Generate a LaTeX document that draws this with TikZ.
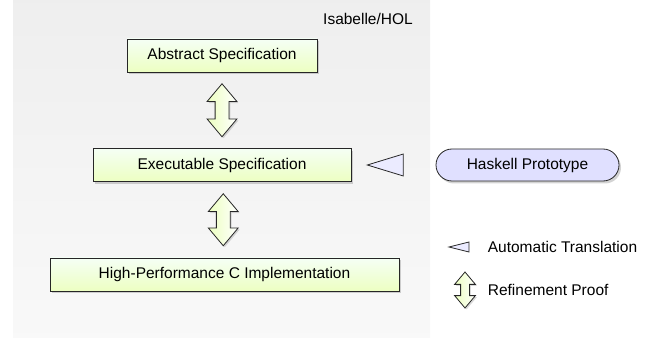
\documentclass[tikz,border=0pt]{standalone}
\usepackage{fontspec}
\setmainfont{Liberation Sans}
\usepackage{tikz}
\usetikzlibrary{shapes.geometric,shapes.arrows,positioning,calc,shadows}

\begin{document}
\begin{tikzpicture}[
    x=1pt, y=-1pt,
    font=\fontsize{15.5}{18}\selectfont,
    spec/.style={rectangle, draw=black!85, line width=0.8pt, minimum height=33pt, inner sep=0pt,
        top color=green!4!white, bottom color=green!30!yellow!24!white, text=black,
        drop shadow={shadow xshift=2pt, shadow yshift=-2.5pt, opacity=0.35}},
    proto/.style={rectangle, rounded corners=16pt, draw=black!85, line width=0.8pt, minimum height=32pt,
        minimum width=183pt, inner sep=0pt, fill=blue!12!white, text=black,
        drop shadow={shadow xshift=2pt, shadow yshift=-2.5pt, opacity=0.35}},
    refine/.style={double arrow, rotate=90, draw=black!85, line width=0.8pt, inner xsep=0pt,
        inner ysep=6.5pt, double arrow head extend=8pt, double arrow tip angle=80,
        left color=green!30!yellow!25!white, right color=white,
        drop shadow={shadow xshift=1.5pt, shadow yshift=-1.5pt, opacity=0.3}},
    transl/.style={isosceles triangle, shape border rotate=180, isosceles triangle stretches,
        draw=black!85, line width=0.8pt, inner sep=0pt, fill=blue!8!white},
    legend/.style={text=black, anchor=west}
]
    % Canvas
    \useasboundingbox (0,0) rectangle (651,339);
    \shade[top color=gray!13, bottom color=gray!5] (13,0) rectangle (430,337);
    \node[text=black] (hol) at (368,18.5) {Isabelle/HOL};

    % Specifications
    \node[spec, minimum width=190pt] (abs) at (222,55.5) {Abstract Specification};
    \node[spec, minimum width=258pt] (exec) at (222,165) {Executable Specification};
    \node[spec, minimum width=349pt] (impl) at (224.5,274.5) {High-Performance C Implementation};
    \node[proto] (hask) at (527.5,165) {Haskell Prototype};

    % Refinement and translation
    \node[refine, minimum height=53pt] (r1) at ($(abs.south)!0.5!(exec.north)$) {};
    \node[refine, minimum height=52pt] (r2) at ($(exec.south)!0.5!(impl.north)$) {};
    \node[transl, minimum width=22pt, minimum height=36pt] (t1) at ($(exec.east)!0.52!(hask.west)$) {};

    % Legend
    \node[transl, minimum width=10pt, minimum height=20pt] (t2) at (465,247) {};
    \node[legend, right=15pt of t2] (tlab) {Automatic Translation};
    \node[refine, minimum height=36pt, inner ysep=4pt, double arrow head extend=6pt] (r3) at (465,290) {};
    \node[legend] (rlab) at (tlab.west |- r3) {Refinement Proof};
\end{tikzpicture}
\end{document}
